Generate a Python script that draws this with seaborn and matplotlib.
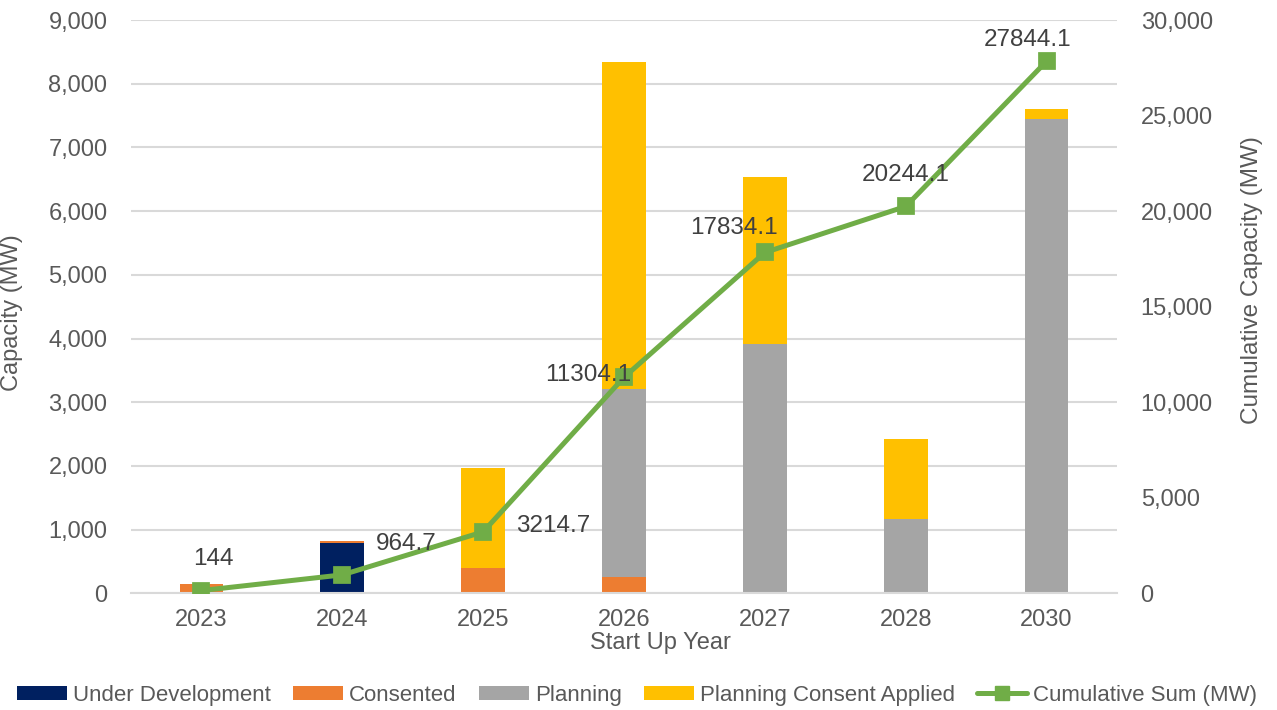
import numpy as np
import pandas as pd
import seaborn as sns
import matplotlib
matplotlib.use("Agg")
import matplotlib.pyplot as plt
from matplotlib.ticker import FuncFormatter, MultipleLocator
from matplotlib.patches import Patch
from matplotlib.lines import Line2D

# ---------------- data ----------------
years = ["2023", "2024", "2025", "2026", "2027", "2028", "2030"]
under_development = [0, 795, 0, 0, 0, 0, 0]
consented = [144, 25.7, 390, 255, 0, 0, 0]
planning = [0, 0, 0, 2955, 3920, 1160, 7445]
planning_consent_applied = [0, 0, 1580, 5130, 2610, 1255, 155]
cumulative_sum = [144, 964.7, 3214.7, 11304.1, 17834.1, 20244.1, 27844.1]
cumulative_labels = ["144", "964.7", "3214.7", "11304.1", "17834.1", "20244.1", "27844.1"]

series_names = ["Under Development", "Consented", "Planning", "Planning Consent Applied"]
series_colors = ["#002060", "#ED7D31", "#A5A5A5", "#FFC000"]
line_name = "Cumulative Sum (MW)"
line_color = "#70AD47"

# label offsets (pixels) relative to each point
label_offsets = [(12, 32), (64, 31), (70, 6), (-36, 2), (-31, 24), (0, 31), (-19, 21)]

# ---------------- style ----------------
sns.set_theme(style="white")
plt.rcParams["font.family"] = ["Liberation Sans", "DejaVu Sans"]
tick_color = "#595959"
grid_color = "#D9D9D9"

fig = plt.figure(figsize=(12.77, 7.10), dpi=100)
ax = fig.add_axes([131 / 1277, 1 - 593.3 / 710, (1117 - 131) / 1277, (593.3 - 20) / 710])

stack = np.array([under_development, consented, planning, planning_consent_applied], dtype=float)
tops = np.cumsum(stack, axis=0)

# draw from top layer downward so lower segments overlay upper totals
for i in range(len(series_names) - 1, -1, -1):
    df = pd.DataFrame({"year": years, "value": tops[i]})
    sns.barplot(data=df, x="year", y="value", color=series_colors[i], saturation=1,
                width=0.31, ax=ax, errorbar=None, linewidth=0, zorder=2)

ax.set_ylim(0, 9000)
ax.yaxis.set_major_locator(MultipleLocator(1000))
ax.yaxis.set_major_formatter(FuncFormatter(lambda v, p: f"{int(v):,}"))
ax.grid(axis="y", color=grid_color, linewidth=1.5, zorder=0)
ax.set_axisbelow(True)
for s in ["top", "left", "right"]:
    ax.spines[s].set_visible(False)
ax.spines["bottom"].set_color(grid_color)
ax.spines["bottom"].set_linewidth(1.5)
ax.tick_params(axis="both", length=0, labelsize=17, colors=tick_color)
ax.tick_params(axis="y", pad=17)
ax.tick_params(axis="x", pad=11)
ax.set_xlabel("Start Up Year", fontsize=17, color=tick_color)
ax.set_ylabel("Capacity (MW)", fontsize=17, color=tick_color)
ax.xaxis.set_label_coords((660 - 131) / (1117 - 131), -0.068)
ax.yaxis.set_label_coords(-0.11, 0.49)

# ---------------- line on secondary axis ----------------
ax2 = ax.twinx()
df_line = pd.DataFrame({"year": years, "cum": cumulative_sum})
sns.pointplot(data=df_line, x="year", y="cum", ax=ax2, color=line_color, markers="s",
              markersize=10.5, linewidth=3.6, errorbar=None, zorder=5)
ax2.set_ylim(0, 30000)
ax2.yaxis.set_major_locator(MultipleLocator(5000))
ax2.yaxis.set_major_formatter(FuncFormatter(lambda v, p: f"{int(v):,}"))
for s in ["top", "left", "right", "bottom"]:
    ax2.spines[s].set_visible(False)
ax2.tick_params(axis="y", length=0, labelsize=17, colors=tick_color, pad=17)
ax2.set_ylabel("Cumulative Capacity (MW)", fontsize=17.5, color=tick_color)
ax2.yaxis.set_label_coords((1241 - 131) / (1117 - 131), 0.546)
ax2.grid(False)
ax.set_xlim(-0.5, len(years) - 0.5)
ax2.set_xlim(-0.5, len(years) - 0.5)
ax2.set_xlabel("")

for i, (lbl, val) in enumerate(zip(cumulative_labels, cumulative_sum)):
    dx, dy = label_offsets[i]
    ax2.annotate(lbl, xy=(i, val), xytext=(dx, dy), textcoords="offset pixels",
                 ha="center", va="center", fontsize=17.5, color="#404040", zorder=6)

# ---------------- legend ----------------
handles = [Patch(facecolor=c, edgecolor="none") for c in series_colors]
handles.append(Line2D([0], [0], color=line_color, linewidth=3.6, marker="s", markersize=10.5))
labels = series_names + [line_name]
fig.legend(handles, labels, loc="center", bbox_to_anchor=(0.499, 0.021), ncol=5,
           frameon=False, prop={"size": 16}, labelcolor=tick_color,
           handlelength=2.25, handleheight=0.6, handletextpad=0.27, columnspacing=1.0,
           borderpad=0.1, borderaxespad=0.1)

fig.savefig("out.png", dpi=100)
